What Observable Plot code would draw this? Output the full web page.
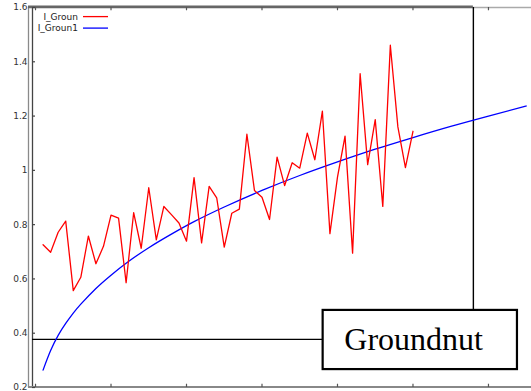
<!DOCTYPE html>
<html>
<head>
<meta charset="utf-8">
<script src="https://cdn.jsdelivr.net/npm/d3@7"></script>
<script src="https://cdn.jsdelivr.net/npm/@observablehq/plot@0.6"></script>
<style>
  html, body { margin: 0; padding: 0; background: #fff; }
  #chart { width: 531px; height: 391px; overflow: hidden; }
</style>
</head>
<body>
<div id="chart"></div>
<script>
// ---- data ----
const seriesNames = ["I_Groun", "I_Groun1"];
const redX = [1,2,3,4,5,6,7,8,9,10,11,12,13,14,15,16,17,18,19,20,21,22,23,24,25,
              26,27,28,29,30,31,32,33,34,35,36,37,38,39,40,41,42,43,44,45,46,47,48,49,50];
const redY = [0.726,0.698,0.772,0.813,0.557,0.606,0.758,0.656,0.720,0.835,
              0.824,0.586,0.844,0.713,0.936,0.744,0.867,0.837,0.806,0.739,
              0.973,0.733,0.941,0.899,0.717,0.842,0.857,1.133,0.926,0.901,
              0.819,1.049,0.944,1.028,1.008,1.137,1.039,1.218,0.767,0.975,
              1.126,0.695,1.356,1.021,1.187,0.867,1.461,1.160,1.010,1.144];
const blueX = [1,2,3,4,5,6,8,10,12,15,18,21,25,30,35,40,45,50,55,60,65];
const blueY = [0.264,0.336,0.392,0.436,0.474,0.507,0.565,0.614,0.658,0.715,0.765,
               0.811,0.865,0.926,0.981,1.031,1.078,1.121,1.162,1.200,1.237];
const xTicks = [0,10,20,30,40,50,60];
const yTicks = [0.2,0.4,0.6,0.8,1,1.2,1.4,1.6];
const boxLabel = "Groundnut";

// ---- build tables ----
const red = redX.map((x,i) => ({x, y: redY[i]}));
const blue = blueX.map((x,i) => ({x, y: blueY[i]}));

const X0 = -0.4, X1 = 65.7, XOUT = -0.93;
const Y0 = 0.2, Y1 = 1.6;

const plot = Plot.plot({
  width: 531,
  height: 391,
  marginLeft: 32,
  marginRight: 0,
  marginTop: 7,
  marginBottom: 4,
  style: {background: "#fff", overflow: "visible"},
  x: {domain: [X0, X1], axis: null},
  y: {domain: [Y0, Y1], axis: null},
  marks: [
    // frame lines
    Plot.ruleX([XOUT], {y1: Y0, y2: Y1, stroke: "#8a8a8a", strokeWidth: 1.3}),
    Plot.ruleX([X0], {y1: Y0, y2: Y1, stroke: "#444", strokeWidth: 1.3}),
    Plot.ruleY([Y1], {x1: XOUT, x2: 58, stroke: "#666", strokeWidth: 2.6, dy: -0.6}),
    Plot.ruleY([Y1], {x1: 58, x2: X1, stroke: "#aaa", strokeWidth: 1.4}),
    Plot.ruleY([Y0], {x1: XOUT, x2: X1, stroke: "#888", strokeWidth: 2, dy: -0.5}),
    // ticks
    Plot.ruleX(xTicks, {x: d => d, y1: Y0, y2: Y0 + 0.012, stroke: "#555", strokeWidth: 1.2}),
    Plot.ruleX(xTicks, {x: d => d, y1: Y1, y2: Y1 - 0.012, stroke: "#555", strokeWidth: 1.2}),
    Plot.ruleY(yTicks, {y: d => d, x1: X0, x2: X0 + 0.4, stroke: "#444", strokeWidth: 1.2}),
    Plot.text(yTicks, {x: X0, y: d => d, text: d => String(d), dx: -5, textAnchor: "end",
      fill: "#333", fontSize: 9, fontFamily: "DejaVu Sans"}),
    // annotation connectors
    Plot.ruleX([58], {y1: Y1, y2: 0.484, stroke: "#000", strokeWidth: 1.4}),
    Plot.ruleY([0.377], {x1: X0, x2: 38.1, stroke: "#000", strokeWidth: 1.2}),
    // data
    Plot.line(blue, {x: "x", y: "y", stroke: "#0000ff", strokeWidth: 1.3, curve: "natural"}),
    Plot.line(red, {x: "x", y: "y", stroke: "#ff0000", strokeWidth: 1.3}),
    // annotation box
    Plot.rect([boxLabel], {x1: 38.1, x2: 63.84, y1: 0.266, y2: 0.484, fill: "#fff", stroke: "#000", strokeWidth: 2.2}),
    Plot.text([boxLabel], {x: 40.9, y: 0.375, text: d => d, textAnchor: "start",
      fontSize: 32, fontFamily: "Liberation Serif", fill: "#000"})
  ]
});

// legend (inside plot, top-left)
const svg = d3.select(plot);
const colors = ["#ff0000", "#0000ff"];
const lg = svg.append("g").attr("font-family", "DejaVu Sans").attr("font-size", 9).attr("fill", "#222");
seriesNames.forEach((name, i) => {
  const yy = 16.6 + i * 11.5;
  lg.append("text").attr("x", 78).attr("y", yy).attr("dy", "0.35em").attr("text-anchor", "end").text(name);
  lg.append("line").attr("x1", 83).attr("x2", 108).attr("y1", yy).attr("y2", yy)
    .attr("stroke", colors[i]).attr("stroke-width", 1.3);
});

document.getElementById("chart").appendChild(plot);
</script>
</body>
</html>
